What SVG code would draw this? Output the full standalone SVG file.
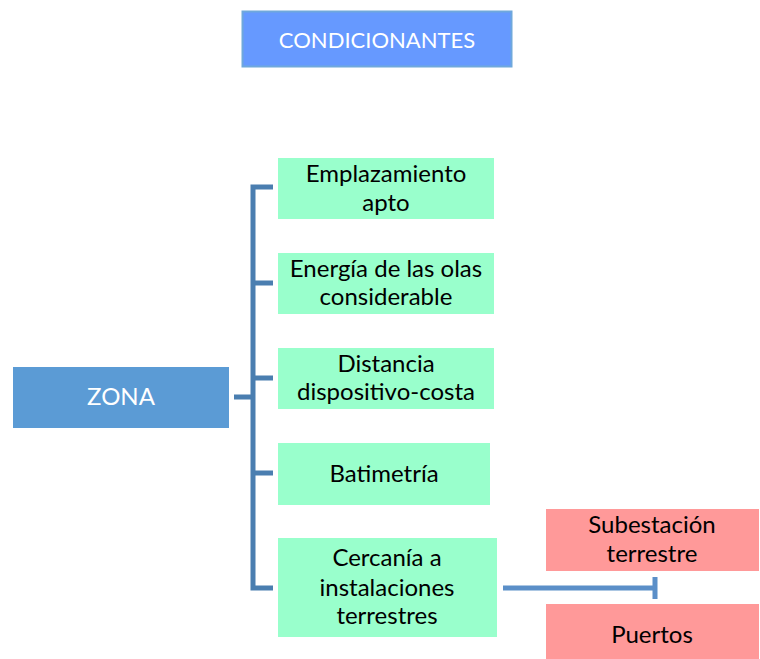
<svg xmlns="http://www.w3.org/2000/svg" width="760" height="659" viewBox="0 0 760 659">
<style>
text{font-family:Lato,"Open Sans","Liberation Sans",sans-serif;font-size:24px;text-anchor:middle}
.g{fill:#99FFCC}
.r{fill:#FF9999}
.k{fill:#000}
.w{fill:#fff}
.c{fill:none;stroke:#4A7EB0;stroke-width:5}
.c2{fill:none;stroke:#5B8FC8;stroke-width:5}
</style>
<rect width="760" height="659" fill="#fff"/>
<g id="condicionantes">
<rect x="242.5" y="11.5" width="269" height="55" fill="#6699FF" stroke="#6FA8DC" stroke-width="2"/>
<text class="w" x="377" y="48" style="font-size:22px">CONDICIONANTES</text>
</g>
<g id="zona">
<rect x="13" y="367" width="216" height="61" fill="#5B9BD5"/>
<text class="w" x="121" y="405">ZONA</text>
</g>
<g id="emplazamiento">
<rect class="g" x="278" y="158" width="216" height="61"/>
<text class="k" x="386" y="182">Emplazamiento</text>
<text class="k" x="386" y="211">apto</text>
</g>
<g id="energia">
<rect class="g" x="278" y="253" width="216" height="61"/>
<text class="k" x="386" y="277">Energía de las olas</text>
<text class="k" x="386" y="305">considerable</text>
</g>
<g id="distancia">
<rect class="g" x="278" y="348" width="216" height="61"/>
<text class="k" x="386" y="372">Distancia</text>
<text class="k" x="386" y="400">dispositivo-costa</text>
</g>
<g id="batimetria">
<rect class="g" x="278" y="443" width="212" height="62"/>
<text class="k" x="384" y="482">Batimetría</text>
</g>
<g id="cercania">
<rect class="g" x="278" y="538" width="219" height="99"/>
<text class="k" x="387" y="566">Cercanía a</text>
<text class="k" x="387" y="596">instalaciones</text>
<text class="k" x="387" y="624">terrestres</text>
</g>
<g id="subestacion">
<rect class="r" x="546" y="509" width="213" height="62"/>
<text class="k" x="652" y="533">Subestación</text>
<text class="k" x="652" y="562">terrestre</text>
</g>
<g id="puertos">
<rect class="r" x="546" y="604" width="213" height="55"/>
<text class="k" x="652" y="643">Puertos</text>
</g>
<g id="connectors">
<path class="c" d="M273 187H253V588H273M253 283H273M253 378H273M253 473H273M234 397H253"/>
<path class="c2" d="M503 588H654M655 577V599"/>
</g>
</svg>
